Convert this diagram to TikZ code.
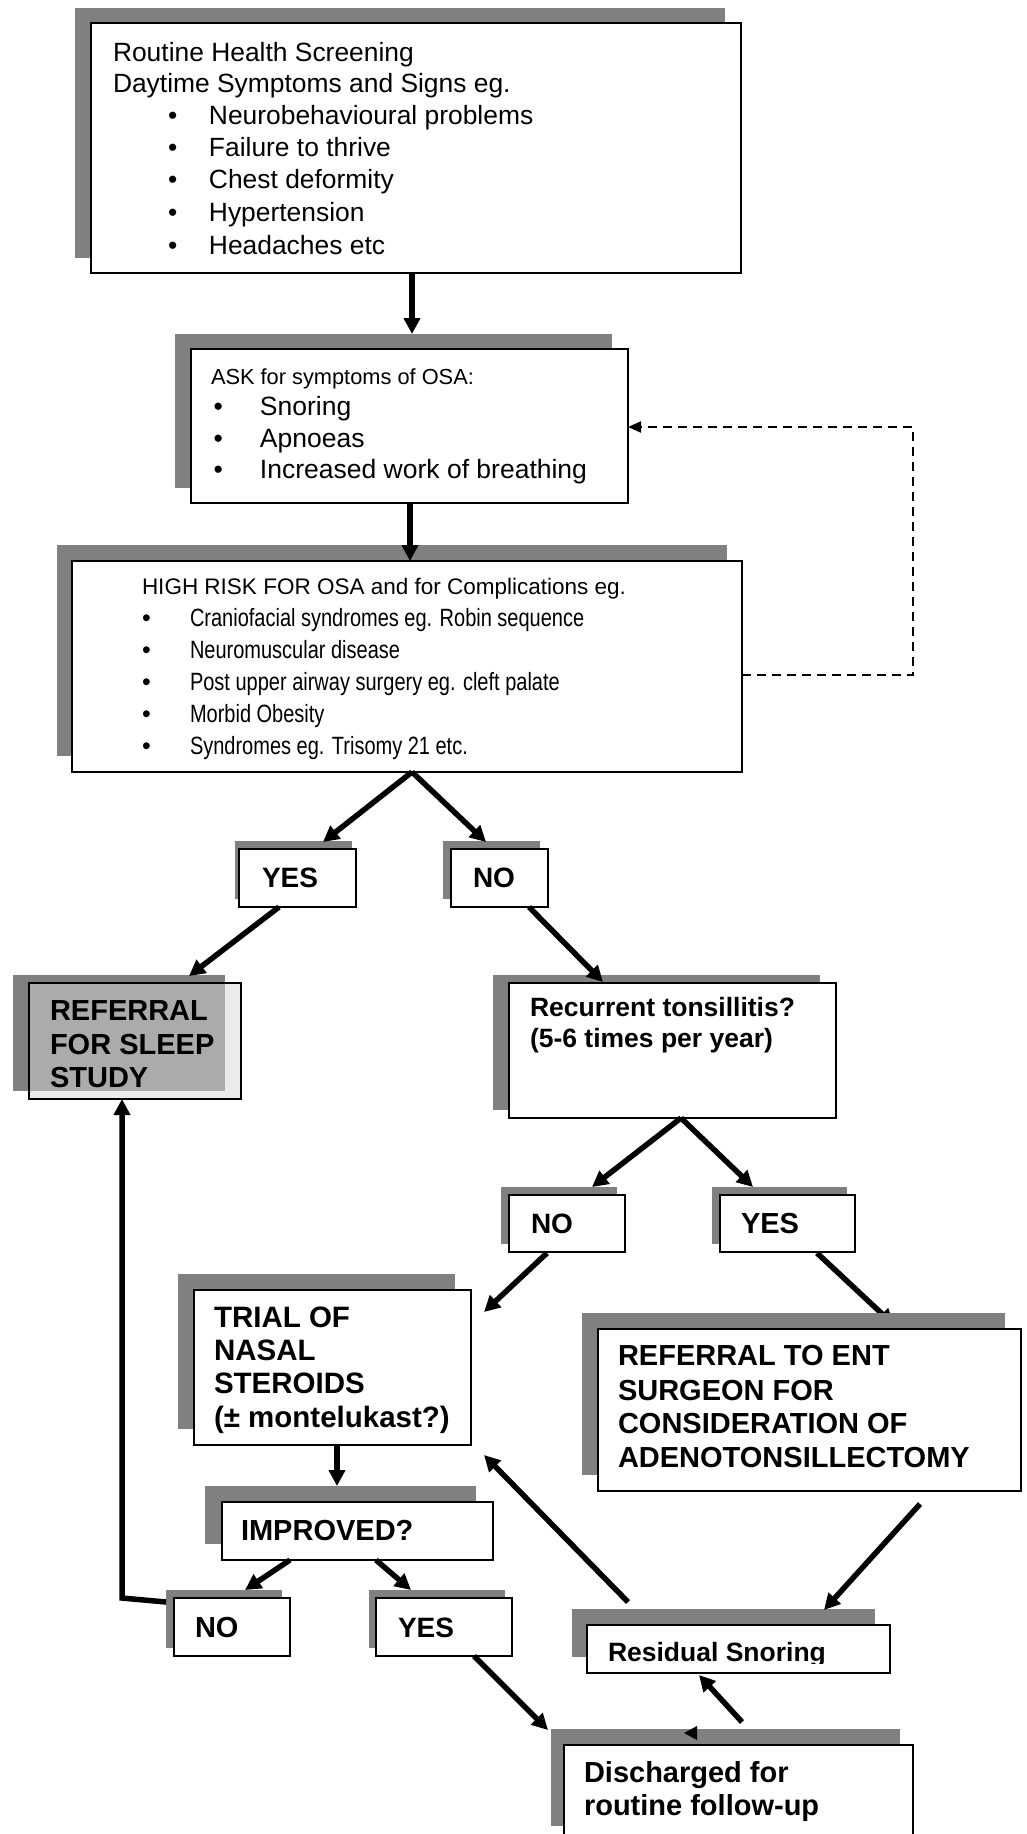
\documentclass[tikz,border=0pt]{standalone}
\usepackage{fontspec}
\setmainfont{Liberation Sans}
\newfontfamily\narrowfont[FakeStretch=0.8]{Liberation Sans}
\usetikzlibrary{arrows.meta,calc,shadows}
\pgfdeclarelayer{paper}
\pgfdeclarelayer{under}
\pgfsetlayers{paper,under,main}
\definecolor{shgray}{RGB}{128,128,128}
\definecolor{refgray}{RGB}{216,216,216}
\newcommand\fcline[5]{\node[#1] (#2) at ($(#3.north west)+#4$) {#5};}
\newcommand\fcbul[2]{\hspace*{#1pt}\makebox[#2pt][l]{\textbullet}}
\newcommand\fcbulbig[2]{\hspace*{#1pt}\makebox[#2pt][l]{\normalfont\fontsize{25}{28}\selectfont\textbullet}}
\begin{document}
\begin{tikzpicture}[x=1pt,y=-1pt,
  box/.style={draw=black,line width=2pt,fill=white,anchor=north west,inner sep=0pt,outer sep=0pt},
  boxshadow/.style 2 args={drop shadow={shadow xshift=#1pt,shadow yshift=#2pt,fill=shgray,opacity=1}},
  txt/.style={anchor=base west,inner sep=0pt,outer sep=0pt},
  regA/.style={txt,font=\fontsize{26.4}{31}\selectfont},
  regB/.style={txt,font=\fontsize{26.5}{31}\selectfont},
  regH/.style={txt,font=\fontsize{21.8}{26}\selectfont},
  regH3/.style={txt,font=\fontsize{22.5}{27}\selectfont},
  narrowI/.style={txt,font=\narrowfont\fontsize{25}{28}\selectfont},
  boldS/.style={txt,font=\bfseries\fontsize{26.5}{31}\selectfont},
  boldM/.style={txt,font=\bfseries\fontsize{28}{33}\selectfont},
  boldT/.style={txt,font=\bfseries\fontsize{29.5}{33}\selectfont},
  boldL/.style={txt,font=\bfseries\fontsize{29}{33}\selectfont},
  arr/.style={line width=5.5pt,-{Triangle[length=16pt,width=16pt]}},
  dasharr/.style={line width=2pt,dash pattern=on 9pt off 6pt,-{Triangle[length=13pt,width=11pt]}},
]
\begin{pgfonlayer}{paper}
\fill[white] (0,0) rectangle (1027,1834);
\end{pgfonlayer}
\useasboundingbox (0,0) rectangle (1027,1834);

% ---------- boxes ----------
\node[box,boxshadow={-16}{15},minimum width=650pt,minimum height=250pt] (b1) at (91,23) {};
\node[box,boxshadow={-16}{15},minimum width=437pt,minimum height=154pt] (b2) at (191,349) {};
\node[box,boxshadow={-15}{16},minimum width=670pt,minimum height=211pt] (b3) at (72,561) {};
\node[box,boxshadow={-4}{8},minimum width=117pt,minimum height=58pt] (yes) at (239,849) {};
\node[box,boxshadow={-8}{8},minimum width=97pt,minimum height=58pt] (no) at (451,849) {};
\node[box,boxshadow={-16}{8},fill=refgray,fill opacity=0.49,minimum width=212pt,minimum height=116pt] (ref) at (29,983) {};
\node[box,boxshadow={-16}{8},minimum width=327pt,minimum height=135pt] (rec) at (509,983) {};
\node[box,boxshadow={-8}{8},minimum width=116pt,minimum height=57pt] (no2) at (509,1195) {};
\node[box,boxshadow={-8}{8},minimum width=135pt,minimum height=57pt] (yes2) at (720,1195) {};
\node[box,boxshadow={-16}{16},minimum width=277pt,minimum height=155pt] (trial) at (194,1290) {};
\node[box,boxshadow={-16}{16},minimum width=423pt,minimum height=162pt] (ent) at (598,1329) {};
\node[box,boxshadow={-17}{16},minimum width=271pt,minimum height=58pt] (imp) at (222,1502) {};
\node[box,boxshadow={-8}{8},minimum width=116pt,minimum height=58pt] (no3) at (174,1598) {};
\node[box,boxshadow={-7}{8},minimum width=136pt,minimum height=58pt] (yes3) at (376,1598) {};
\node[box,boxshadow={-15}{16},minimum width=303pt,minimum height=48pt] (res) at (587,1625) {};
\node[box,boxshadow={-13}{16},minimum width=349pt,minimum height=97pt] (dis) at (564,1745) {};

% ---------- texts ----------
\fcline{regA}{b1l1}{b1}{(22,38)}{Routine Health Screening}
\fcline{regA}{b1l2}{b1}{(22,69)}{Daytime Symptoms and Signs eg.}
\fcline{regA}{b1l3}{b1}{(22,101)}{\fcbul{55}{41}Neurobehavioural problems}
\fcline{regA}{b1l4}{b1}{(22,133)}{\fcbul{55}{41}Failure to thrive}
\fcline{regA}{b1l5}{b1}{(22,165)}{\fcbul{55}{41}Chest deformity}
\fcline{regA}{b1l6}{b1}{(22,198)}{\fcbul{55}{41}Hypertension}
\fcline{regA}{b1l7}{b1}{(22,231)}{\fcbul{55}{41}Headaches etc}

\fcline{regH}{b2l1}{b2}{(20,35)}{ASK for symptoms of OSA:}
\fcline{regB}{b2l2}{b2}{(20,66)}{\fcbul{2.5}{46.5}Snoring}
\fcline{regB}{b2l3}{b2}{(20,98)}{\fcbul{2.5}{46.5}Apnoeas}
\fcline{regB}{b2l4}{b2}{(20,129)}{\fcbul{2.5}{46.5}Increased work of breathing}

\fcline{regH3}{b3l1}{b3}{(70,33)}{HIGH RISK FOR OSA and for Complications eg.}
\fcline{narrowI}{b3l2}{b3}{(70,65)}{\fcbulbig{0}{48}Craniofacial syndromes eg. Robin sequence}
\fcline{narrowI}{b3l3}{b3}{(70,97)}{\fcbulbig{0}{48}Neuromuscular disease}
\fcline{narrowI}{b3l4}{b3}{(70,129)}{\fcbulbig{0}{48}Post upper airway surgery eg. cleft palate}
\fcline{narrowI}{b3l5}{b3}{(70,161)}{\fcbulbig{0}{48}Morbid Obesity}
\fcline{narrowI}{b3l6}{b3}{(70,193)}{\fcbulbig{0}{48}Syndromes eg. Trisomy 21 etc.}

\fcline{boldM}{yesl}{yes}{(23,38)}{YES}
\fcline{boldM}{nol}{no}{(22,38)}{NO}

\fcline{boldL}{refl1}{ref}{(21,37)}{REFERRAL}
\fcline{boldL}{refl2}{ref}{(21,71)}{FOR SLEEP}
\fcline{boldL}{refl3}{ref}{(21,104)}{STUDY}

\fcline{boldS}{recl1}{rec}{(21,33)}{Recurrent tonsillitis?}
\fcline{boldS}{recl2}{rec}{(21,64)}{(5-6 times per year)}

\fcline{boldM}{no2l}{no2}{(22,38)}{NO}
\fcline{boldL}{yes2l}{yes2}{(21,38)}{YES}

\fcline{boldT}{trl1}{trial}{(20,37)}{TRIAL OF}
\fcline{boldT}{trl2}{trial}{(20,70)}{NASAL}
\fcline{boldT}{trl3}{trial}{(20,103)}{STEROIDS}
\fcline{boldT}{trl4}{trial}{(20,137)}{(± montelukast?)}

\fcline{boldL}{entl1}{ent}{(20,36)}{REFERRAL TO ENT}
\fcline{boldL}{entl2}{ent}{(20,71)}{SURGEON FOR}
\fcline{boldL}{entl3}{ent}{(20,104)}{CONSIDERATION OF}
\fcline{boldL}{entl4}{ent}{(20,138)}{ADENOTONSILLECTOMY}

\fcline{boldL}{impl}{imp}{(19,38)}{IMPROVED?}
\fcline{boldL}{no3l}{no3}{(21,39)}{NO}
\fcline{boldM}{yes3l}{yes3}{(22,39)}{YES}

\begin{scope}
\clip ($(res.north west)+(1,1)$) rectangle ($(res.north west)+(302,38)$);
\fcline{boldS}{resl}{res}{(21,36)}{Residual Snoring}
\end{scope}

\fcline{boldL}{disl1}{dis}{(20,37)}{Discharged for}
\fcline{boldL}{disl2}{dis}{(20,70)}{routine follow-up}

% ---------- connectors ----------
\draw[arr] ($(b1.north west)+(321,250)$) -- ($(b2.north west)+(221,-15)$);
\draw[arr] ($(b2.north west)+(219,154)$) -- ($(b3.north west)+(338,0)$);
\draw[dasharr] ($(b3.north west)+(670,114)$) -- ++(171,0) |- ($(b2.north west)+(437,78)$);
\draw[arr] ($(b3.north west)+(340,211)$) -- ($(yes.north west)+(84,-7)$);
\draw[arr] ($(b3.north west)+(340,211)$) -- ($(no.north west)+(35,-7)$);
\draw[arr] ($(yes.north west)+(40,58)$) -- ($(ref.north west)+(160,-7)$);
\draw[arr] ($(no.north west)+(78,58)$) -- ($(rec.north west)+(94,-1)$);
\draw[arr] ($(rec.north west)+(172,135)$) -- ($(no2.north west)+(83,-8)$);
\draw[arr] ($(rec.north west)+(172,135)$) -- ($(yes2.north west)+(33,-8)$);
\draw[arr] ($(no2.north west)+(38,58)$) -- ($(trial.north west)+(290,22)$);
\begin{pgfonlayer}{under}
\draw[arr] ($(yes2.north west)+(97,58)$) -- ($(ent.north west)+(296,-4)$);
\end{pgfonlayer}
\draw[arr] ($(trial.north west)+(143,155)$) -- ($(imp.north west)+(115,-16)$);
\draw[arr] ($(imp.north west)+(68,58)$) -- ($(no3.north west)+(71,-8)$);
\draw[arr] ($(imp.north west)+(154,58)$) -- ($(yes3.north west)+(35,-8)$);
\draw[arr] ($(no3.north west)+(-8,4)$) -- ++(-44,-4) -- ($(ref.north west)+(93,116)$);
\draw[arr] ($(yes3.north west)+(98,58)$) -- ($(dis.north west)+(-16,-15)$);
\draw[arr] ($(ent.north west)+(322,175)$) -- ($(res.north west)+(237,-15)$);
\draw[arr] ($(res.north west)+(41,-23)$) -- ($(trial.north west)+(290,165)$);
\draw[arr] ($(dis.north west)+(178,-23)$) -- ($(res.north west)+(112,50)$);
\fill[black] ($(dis.north west)+(120,-12)$) -- ++(13,-7) -- ++(0,14) -- cycle;
\end{tikzpicture}
\end{document}
